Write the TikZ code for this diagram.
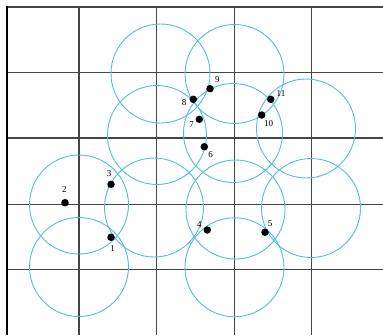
\documentclass[tikz,border=0pt]{standalone}
\usepackage{fontspec}
\setmainfont{Liberation Serif}
\definecolor{ringcol}{RGB}{82,190,222}
\definecolor{gridcol}{RGB}{70,70,70}
\begin{document}
\begin{tikzpicture}[x=1pt,y=-1pt,
  gridline/.style={draw=gridcol,line width=1.1pt},
  ring/.style={draw=ringcol,line width=0.9pt},
  sensor/.style={circle,fill=black,inner sep=0pt,minimum size=7.5pt},
  lab/.style={font=\fontsize{9}{9}\selectfont,inner sep=0pt}]
\useasboundingbox (0,0) rectangle (383,335);
\fill[white] (0,0) rectangle (383,335);
% grid
\foreach \x in {79,156.3,234.3,311.7} \draw[gridline] (\x,7) -- (\x,335);
\foreach \y in {7,72.3,138,204.3,269.7} \draw[gridline] (7,\y) -- (383,\y);
\draw[black,line width=2.4pt] (7,6) -- (7,335);
% coverage circles
\foreach \cx/\cy in {160.5/73.5, 234.5/74, 157/135, 233/133, 306/128.5,
  79/204.5, 154/207.5, 235.5/209.5, 311/208, 79/267, 234.5/267.3}
  \draw[ring] (\cx,\cy) circle (49.5);
% sensor nodes
\node[sensor] (p1) at (111,237.3) {};
\node[sensor] (p2) at (65,202.7) {};
\node[sensor] (p3) at (111,184.3) {};
\node[sensor] (p4) at (207.3,230) {};
\node[sensor] (p5) at (265,232.3) {};
\node[sensor] (p6) at (204.3,146.7) {};
\node[sensor] (p7) at (199.3,119.3) {};
\node[sensor] (p8) at (193.3,99.3) {};
\node[sensor] (p9) at (210,88.7) {};
\node[sensor] (p10) at (261.7,115) {};
\node[sensor] (p11) at (270.7,99.3) {};
% labels
\node[lab] (l1) at (112.7,249) {1};
\node[lab] (l2) at (64.3,190) {2};
\node[lab] (l3) at (109,173.3) {3};
\node[lab] (l4) at (199.3,225) {4};
\node[lab] (l5) at (270,223.3) {5};
\node[lab] (l6) at (210.7,154.3) {6};
\node[lab] (l7) at (191.7,125) {7};
\node[lab] (l8) at (184,102.7) {8};
\node[lab] (l9) at (217.3,80) {9};
\node[lab] (l10) at (268.7,124) {10};
\node[lab] (l11) at (281,93.3) {11};
\end{tikzpicture}
\end{document}
